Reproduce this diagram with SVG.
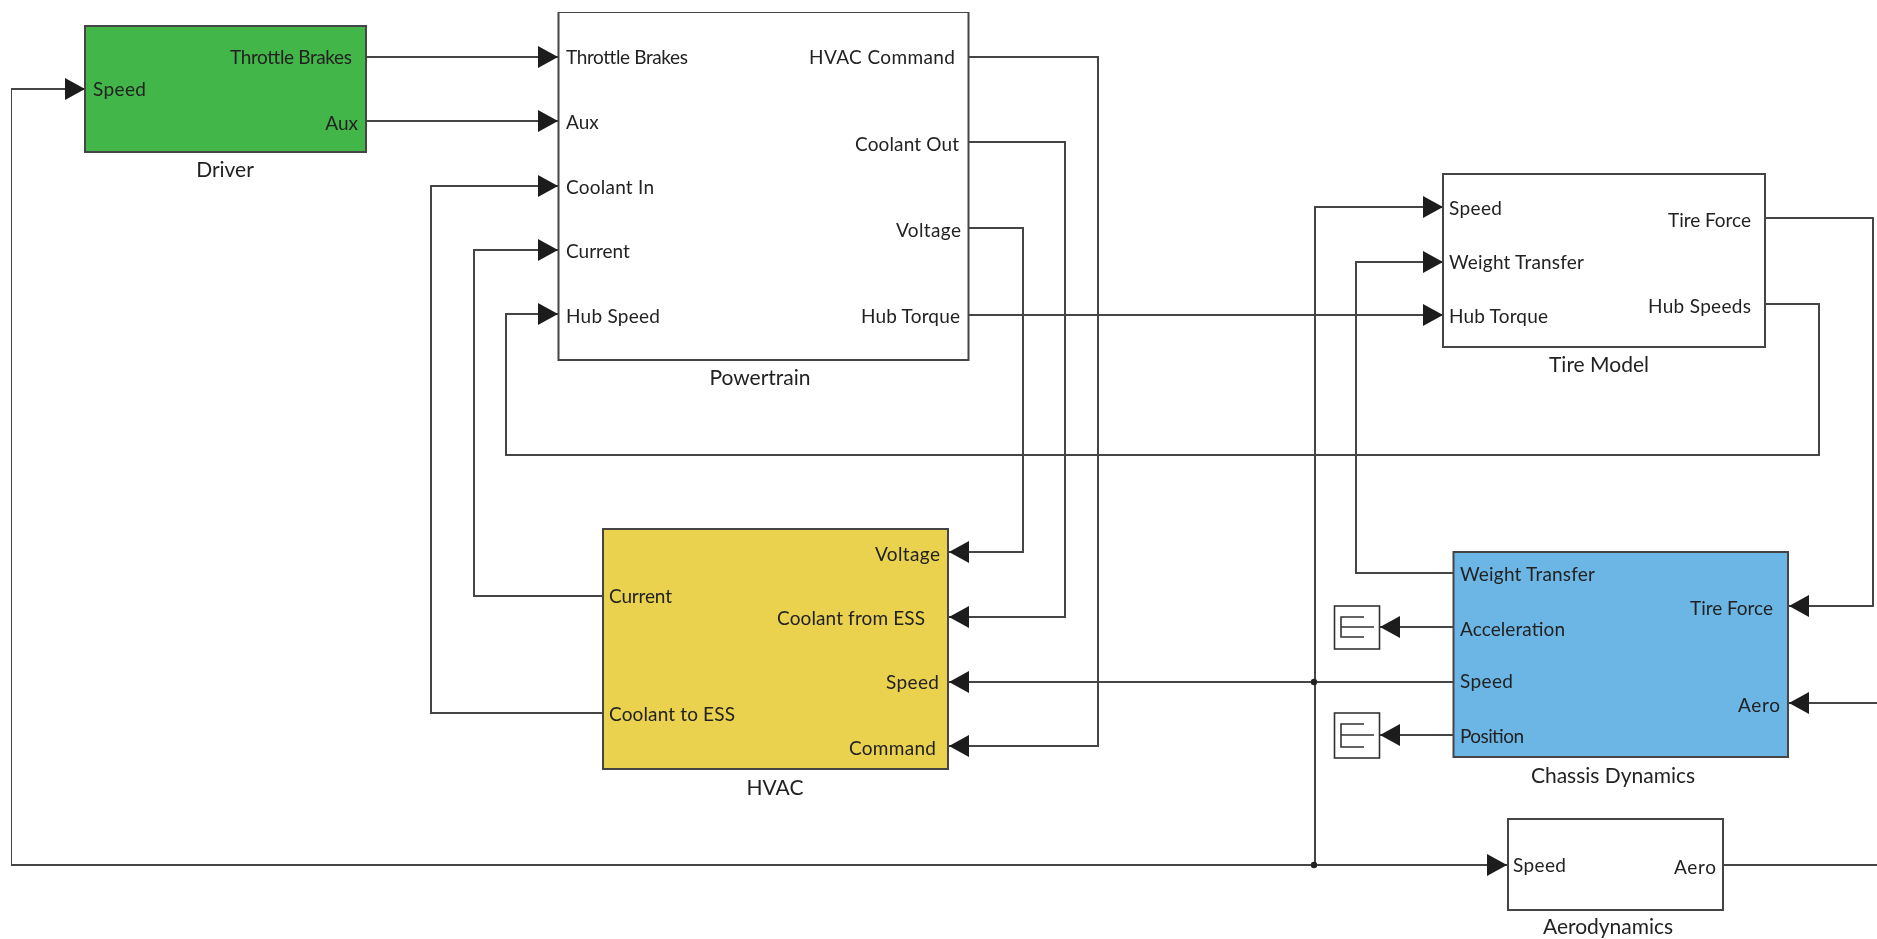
<svg xmlns="http://www.w3.org/2000/svg" width="1877" height="939" viewBox="0 0 1877 939">
<style>
.b{stroke:#444;stroke-width:2}
.w{fill:#fff}
.c{fill:none;stroke:#444;stroke-width:2}
text{font-family:"Lato","Liberation Sans",sans-serif;font-size:19px;fill:#222}
.e{text-anchor:end}
.m{text-anchor:middle;font-size:21px}
.t{fill:none;stroke:#333;stroke-width:1.6}
</style>
<defs>
<marker id="arrow" markerUnits="userSpaceOnUse" markerWidth="21" markerHeight="22" refX="20" refY="11" orient="auto"><path d="M0 0L20 11L0 22Z" fill="#1c1c1c"/></marker>
<filter id="soft" x="0" y="0" width="100%" height="100%"><feGaussianBlur stdDeviation="0.5"/></filter>
</defs>
<rect width="1877" height="939" fill="#fff"/>
<g filter="url(#soft)">
<g id="connectors">
<path class="c" d="M366 57H558" marker-end="url(#arrow)"/>
<path class="c" d="M366 121H558" marker-end="url(#arrow)"/>
<path class="c" d="M1508 865H11V89H85" marker-end="url(#arrow)"/>
<path class="c" d="M1315 865H1507" marker-end="url(#arrow)"/>
<path class="c" d="M1315 865V207H1443" marker-end="url(#arrow)"/>
<path class="c" d="M603 713H431V186H558" marker-end="url(#arrow)"/>
<path class="c" d="M603 596H474V250H558" marker-end="url(#arrow)"/>
<path class="c" d="M1765 304H1819V455H506V314H558" marker-end="url(#arrow)"/>
<path class="c" d="M968 57H1098V746H949" marker-end="url(#arrow)"/>
<path class="c" d="M968 142H1065V617H949" marker-end="url(#arrow)"/>
<path class="c" d="M968 228H1023V552H949" marker-end="url(#arrow)"/>
<path class="c" d="M968 315H1443" marker-end="url(#arrow)"/>
<path class="c" d="M1454 682H949" marker-end="url(#arrow)"/>
<path class="c" d="M1454 573H1356V262H1443" marker-end="url(#arrow)"/>
<path class="c" d="M1765 218H1873V606H1789" marker-end="url(#arrow)"/>
<path class="c" d="M1877 703H1789" marker-end="url(#arrow)"/>
<path class="c" d="M1723 865H1877"/>
<path class="c" d="M1454 627H1380" marker-end="url(#arrow)"/>
<path class="c" d="M1454 735H1380" marker-end="url(#arrow)"/>
<circle cx="1314" cy="682" r="3.2" fill="#222"/>
<circle cx="1314" cy="865" r="3.2" fill="#222"/>
</g>
<g id="driver">
<rect class="b" x="85" y="26" width="281" height="126" fill="#43b649"/>
<text class="e" x="352" y="64" textLength="122">Throttle Brakes</text>
<text class="e" x="358" y="130">Aux</text>
<text x="93" y="96" textLength="53">Speed</text>
<text class="m" x="225" y="177">Driver</text>
</g>
<g id="powertrain">
<rect class="b w" x="558.5" y="12" width="410" height="348"/>
<text x="566" y="64" textLength="122">Throttle Brakes</text>
<text x="566" y="129">Aux</text>
<text x="566" y="194" textLength="88">Coolant In</text>
<text x="566" y="258">Current</text>
<text x="566" y="323" textLength="94">Hub Speed</text>
<text class="e" x="955" y="64" textLength="146">HVAC Command</text>
<text class="e" x="959" y="151" textLength="104">Coolant Out</text>
<text class="e" x="961" y="237" textLength="65">Voltage</text>
<text class="e" x="960" y="323" textLength="99">Hub Torque</text>
<text class="m" x="760" y="385">Powertrain</text>
</g>
<g id="hvac">
<rect class="b" x="603" y="529" width="345" height="240" fill="#ead24f"/>
<text class="e" x="940" y="561" textLength="65">Voltage</text>
<text class="e" x="925" y="625" textLength="148">Coolant from ESS</text>
<text class="e" x="939" y="689" textLength="53">Speed</text>
<text class="e" x="936" y="755" textLength="87">Command</text>
<text x="609" y="603" textLength="63">Current</text>
<text x="609" y="721" textLength="126">Coolant to ESS</text>
<text class="m" x="775" y="795">HVAC</text>
</g>
<g id="tire-model">
<rect class="b w" x="1443" y="174" width="322" height="173"/>
<text x="1449" y="215" textLength="53">Speed</text>
<text x="1449" y="269" textLength="135">Weight Transfer</text>
<text x="1449" y="323" textLength="99">Hub Torque</text>
<text class="e" x="1751" y="227" textLength="83">Tire Force</text>
<text class="e" x="1751" y="313" textLength="103">Hub Speeds</text>
<text class="m" x="1599" y="372">Tire Model</text>
</g>
<g id="chassis-dynamics">
<rect class="b" x="1453.5" y="552" width="334.5" height="205" fill="#6cb6e6"/>
<text x="1460" y="581" textLength="135">Weight Transfer</text>
<text x="1460" y="636" textLength="105">Acceleration</text>
<text x="1460" y="688" textLength="53">Speed</text>
<text x="1460" y="743" textLength="64">Position</text>
<text class="e" x="1773" y="615" textLength="83">Tire Force</text>
<text class="e" x="1780" y="712" textLength="42">Aero</text>
<text class="m" x="1613" y="783">Chassis Dynamics</text>
</g>
<g id="aerodynamics">
<rect class="b w" x="1508" y="819" width="215" height="91"/>
<text x="1513" y="872" textLength="53">Speed</text>
<text class="e" x="1716" y="874" textLength="42">Aero</text>
<text class="m" x="1608" y="934" textLength="130">Aerodynamics</text>
</g>
<g id="terminator-acceleration">
<rect class="t" x="1334.5" y="606" width="45" height="43"/>
<path class="t" d="M1364 617H1341V637H1364M1341 627H1374"/>
</g>
<g id="terminator-position">
<rect class="t" x="1334.5" y="713" width="45" height="45"/>
<path class="t" d="M1364 724H1341V747H1364M1341 735H1374"/>
</g>
</g>
</svg>
